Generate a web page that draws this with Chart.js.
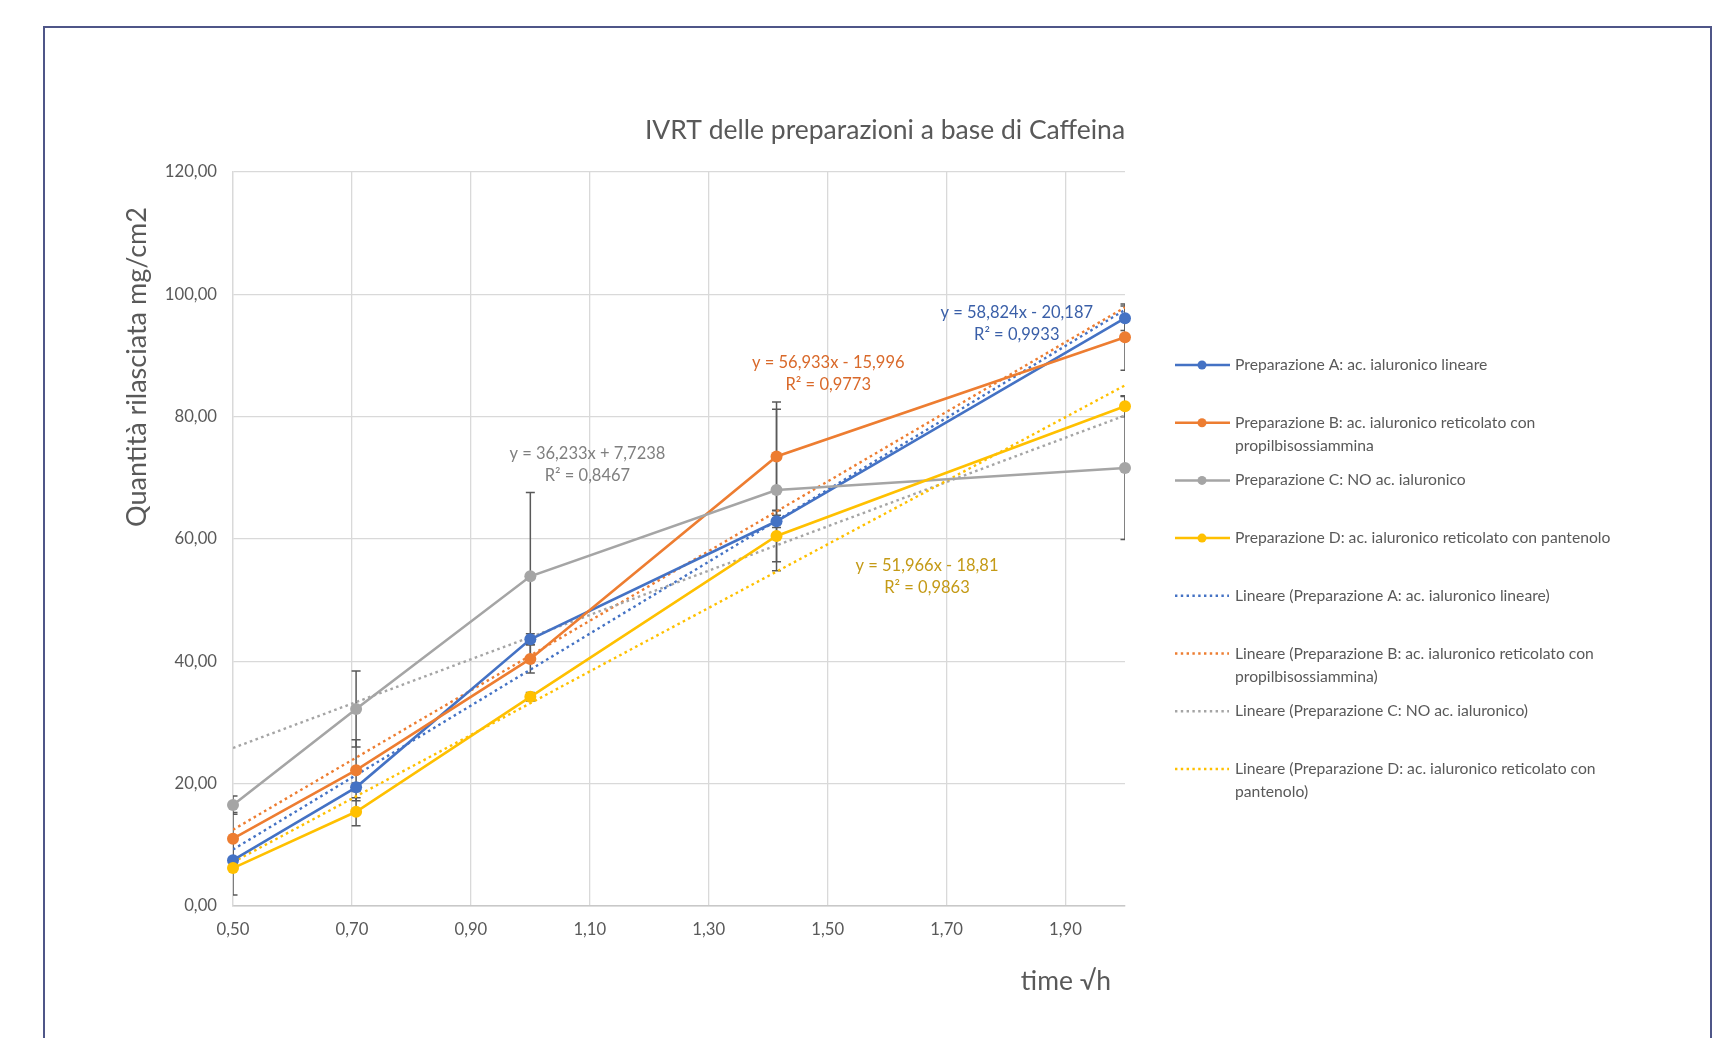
<!DOCTYPE html>
<html>
<head>
<meta charset="utf-8">
<title>IVRT delle preparazioni a base di Caffeina</title>
<script src="https://cdn.jsdelivr.net/npm/chart.js@4.4.1/dist/chart.umd.min.js"></script>
<style>
    html, body { margin: 0; padding: 0; background: #fff; overflow: hidden; }
    #wrap { width: 1717px; height: 1038px; position: relative; }
</style>
</head>
<body>
<div id="wrap"><canvas id="ivrtChart"></canvas></div>
<script>
// time (sqrt h) of each sample
const timeSqrtH = [0.50, 0.707, 1.00, 1.414, 2.00];

// released quantity mg/cm2
const prepA = [7.5, 19.4, 43.6, 62.9, 96.1];
const prepB = [11.0, 22.2, 40.4, 73.5, 93.0];
const prepC = [16.5, 32.2, 53.9, 68.0, 71.6];
const prepD = [6.2, 15.4, 34.2, 60.5, 81.7];

// error bars (+/-)
const errA = [0.5, 0.7, 0.9, 1.0, 2.0];
const errB = [4.3, 5.0, 2.3, 8.9, 5.4];
const errC = [1.5, 6.2, 13.7, 13.2, 11.7];
const errD = [4.4, 2.3, 0.7, 4.2, 1.7];

// linear trend lines, value at start and end of the axis
const trendX = [0.50, 2.00];
const trendA = [9.23, 97.46];
const trendB = [12.47, 97.87];
const trendC = [25.84, 80.19];
const trendD = [7.17, 85.12];

// axis ticks
const xTicks = [0.50, 0.70, 0.90, 1.10, 1.30, 1.50, 1.70, 1.90];
const yTicks = [0, 20, 40, 60, 80, 100, 120];

const seriesNames = [
    'Preparazione A: ac. ialuronico lineare',
    'Preparazione B: ac. ialuronico reticolato con propilbisossiammina',
    'Preparazione C: NO ac. ialuronico',
    'Preparazione D: ac. ialuronico reticolato con pantenolo'
];
const equations = [
    ['y = 58,824x - 20,187', 'R² = 0,9933'],
    ['y = 56,933x - 15,996', 'R² = 0,9773'],
    ['y = 36,233x + 7,7238', 'R² = 0,8467'],
    ['y = 51,966x - 18,81', 'R² = 0,9863']
];

// legend text, broken the way the picture breaks it
const legendLines = [
    ['Preparazione A: ac. ialuronico lineare'],
    ['Preparazione B: ac. ialuronico reticolato con', 'propilbisossiammina'],
    ['Preparazione C: NO ac. ialuronico'],
    ['Preparazione D: ac. ialuronico reticolato con pantenolo'],
    ['Lineare (Preparazione A: ac. ialuronico lineare)'],
    ['Lineare (Preparazione B: ac. ialuronico reticolato con', 'propilbisossiammina)'],
    ['Lineare (Preparazione C: NO ac. ialuronico)'],
    ['Lineare (Preparazione D: ac. ialuronico reticolato con', 'pantenolo)']
];

const colors = ['#4472C4', '#ED7D31', '#A5A5A5', '#FFC000'];
const eqColors = ['#3A5FA8', '#D9692A', '#7F7F7F', '#C49A16'];
// where each equation label sits, in axis units
const eqAnchors = [[1.818, 97.0], [1.501, 88.9], [1.096, 73.9], [1.667, 55.6]];

const FONT = 'Lato, "Open Sans", sans-serif';
const TEXT_GREY = '#595959';

function fmt(v) {
    return v.toFixed(2).replace('.', ',');
}

function points(xs, ys) {
    return ys.map((y, i) => ({ x: xs[i], y: y }));
}

const seriesData = [prepA, prepB, prepC, prepD];
const errData = [errA, errB, errC, errD];
const trendData = [trendA, trendB, trendC, trendD];

const datasets = [];
seriesData.forEach((vals, i) => {
    datasets.push({
        label: seriesNames[i],
        data: points(timeSqrtH, vals),
        borderColor: colors[i],
        backgroundColor: colors[i],
        borderWidth: 2.6,
        pointRadius: 6,
        pointBorderWidth: 0,
        pointBackgroundColor: colors[i],
        clip: false,
        order: 4 - i
    });
});
trendData.forEach((vals, i) => {
    datasets.push({
        label: 'Lineare (' + seriesNames[i] + ')',
        data: points(trendX, vals),
        borderColor: colors[i],
        borderWidth: 2.4,
        borderDash: [2.6, 3.4],
        pointRadius: 0,
        order: 10 - i
    });
});

// error bars, frame, titles, equations and the legend
const extrasPlugin = {
    id: 'extras',
    beforeDraw(chart) {
        const ctx = chart.ctx;
        ctx.save();
        ctx.strokeStyle = '#4f5688';
        ctx.lineWidth = 2;
        ctx.beginPath();
        ctx.moveTo(44, 1040);
        ctx.lineTo(44, 27);
        ctx.lineTo(1711, 27);
        ctx.lineTo(1711, 1040);
        ctx.stroke();
        ctx.restore();
    },
    beforeDatasetsDraw(chart) {
        const ctx = chart.ctx;
        const a = chart.chartArea;
        const xs = chart.scales.x, ys = chart.scales.y;
        ctx.save();
        ctx.beginPath();
        ctx.rect(a.left, a.top - 10, a.right - a.left, a.bottom - a.top + 20);
        ctx.clip();
        ctx.strokeStyle = '#595959';
        ctx.lineWidth = 1.5;
        seriesData.forEach((vals, s) => {
            vals.forEach((v, i) => {
                const e = errData[s][i];
                const px = xs.getPixelForValue(timeSqrtH[i]);
                const top = ys.getPixelForValue(v + e);
                const bot = ys.getPixelForValue(v - e);
                ctx.beginPath();
                ctx.moveTo(px, top); ctx.lineTo(px, bot);
                ctx.moveTo(px - 4.5, top); ctx.lineTo(px + 4.5, top);
                ctx.moveTo(px - 4.5, bot); ctx.lineTo(px + 4.5, bot);
                ctx.stroke();
            });
        });
        ctx.restore();
    },
    afterDraw(chart) {
        const ctx = chart.ctx;
        const xs = chart.scales.x, ys = chart.scales.y;
        ctx.save();
        ctx.fillStyle = TEXT_GREY;
        ctx.textAlign = 'center';
        ctx.textBaseline = 'middle';

        // chart title
        ctx.font = '26.5px ' + FONT;
        ctx.fillText('IVRT delle preparazioni a base di Caffeina', 885, 130);

        // axis titles
        ctx.font = '26.5px ' + FONT;
        ctx.fillText('time √h', 1066, 981);
        ctx.save();
        ctx.translate(137, 367);
        ctx.rotate(-Math.PI / 2);
        ctx.font = '27px ' + FONT;
        ctx.fillText('Quantità rilasciata mg/cm2', 0, 0);
        ctx.restore();

        // trend equations
        ctx.font = '16.5px ' + FONT;
        equations.forEach((lines, i) => {
            const px = xs.getPixelForValue(eqAnchors[i][0]);
            const py = ys.getPixelForValue(eqAnchors[i][1]);
            ctx.fillStyle = eqColors[i];
            ctx.fillText(lines[0], px, py);
            ctx.fillText(lines[1], px, py + 22);
        });

        // legend
        ctx.textAlign = 'left';
        ctx.font = '15.7px ' + FONT;
        legendLines.forEach((lines, i) => {
            const y = 365 + i * 57.7;
            const c = colors[i % 4];
            ctx.strokeStyle = c;
            ctx.lineWidth = 2.5;
            ctx.beginPath();
            if (i < 4) {
                ctx.setLineDash([]);
                ctx.moveTo(1175, y); ctx.lineTo(1230, y);
                ctx.stroke();
                ctx.fillStyle = c;
                ctx.beginPath();
                ctx.arc(1202, y, 4.5, 0, Math.PI * 2);
                ctx.fill();
            } else {
                ctx.setLineDash([2.4, 3.4]);
                ctx.moveTo(1175, y); ctx.lineTo(1229, y);
                ctx.stroke();
                ctx.setLineDash([]);
            }
            ctx.fillStyle = TEXT_GREY;
            lines.forEach((t, k) => ctx.fillText(t, 1235, y + k * 23));
        });
        ctx.restore();
    }
};

new Chart(document.getElementById('ivrtChart'), {
    type: 'line',
    data: { datasets: datasets },
    options: {
        responsive: true,
        maintainAspectRatio: false,
        devicePixelRatio: 1,
        animation: false,
        layout: { padding: { left: 40, top: 172, right: 592, bottom: 0 } },
        plugins: {
            legend: { display: false },
            tooltip: { enabled: false }
        },
        scales: {
            x: {
                type: 'linear',
                min: 0.5,
                max: 2.0,
                afterBuildTicks(scale) {
                    scale.ticks = xTicks.map(v => ({ value: v }));
                },
                afterFit(scale) { scale.height = 132; },
                ticks: {
                    callback: v => fmt(v),
                    color: TEXT_GREY,
                    font: { family: FONT, size: 16.7 },
                    padding: 14,
                    maxRotation: 0
                },
                grid: { color: '#d9d9d9', lineWidth: 1.3, drawTicks: false },
                border: { color: '#c8c8c8', width: 1.5 }
            },
            y: {
                min: 0,
                max: 120,
                afterBuildTicks(scale) {
                    scale.ticks = yTicks.map(v => ({ value: v }));
                },
                afterFit(scale) { scale.width = 193; },
                ticks: {
                    callback: v => fmt(v),
                    color: TEXT_GREY,
                    font: { family: FONT, size: 16.7 },
                    padding: 16
                },
                grid: { color: '#d9d9d9', lineWidth: 1.3, drawTicks: false },
                border: { color: '#d9d9d9', width: 1.3 }
            }
        }
    },
    plugins: [extrasPlugin]
});
</script>
</body>
</html>
